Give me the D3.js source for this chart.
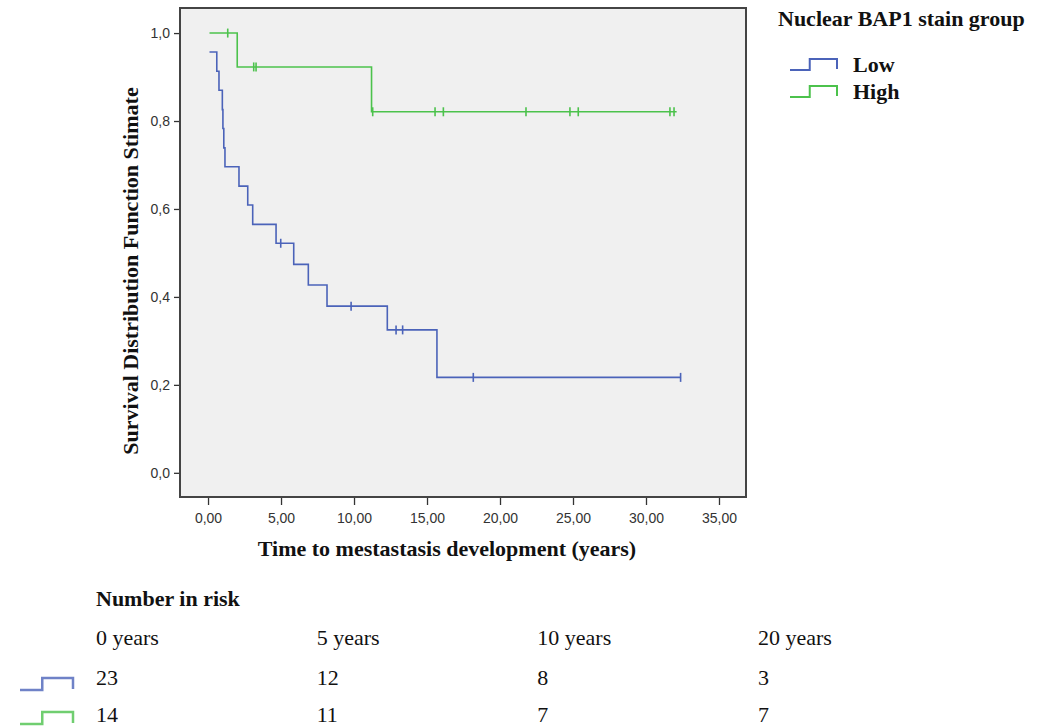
<!DOCTYPE html>
<html>
<head>
<meta charset="utf-8">
<script src="https://cdn.jsdelivr.net/npm/d3@7"></script>
<style>
  body { margin: 0; background: #fff; }
  svg { display: block; }
  .serif { font-family: "Liberation Serif", "Times New Roman", serif; fill: #111; }
</style>
</head>
<body>
<div id="chart"></div>
<script>
// Kaplan-Meier steps: time (years) where the curve drops, survival after drop
var lowTimes = [0.1, 0.6, 0.75, 0.98, 1.02, 1.08, 1.16, 2.12, 2.72, 3.06, 4.66, 5.87, 6.87, 8.15, 12.28, 15.68];
var lowSurv  = [0.957, 0.913, 0.870, 0.826, 0.783, 0.739, 0.696, 0.652, 0.609, 0.565, 0.522, 0.474, 0.427, 0.379, 0.325, 0.217];
var lowEnd = 32.4;
var lowCensored = [4.98, 9.8, 12.88, 13.33, 18.17, 32.37];

var highTimes = [0.1, 2.0, 11.2];
var highSurv  = [1.0, 0.923, 0.821];
var highEnd = 32.1;
var highCensored = [1.35, 3.13, 3.29, 11.28, 15.55, 16.12, 21.78, 24.79, 25.36, 31.64, 31.92];

var groups = ["Low", "High"];
var colors = ["#4b63b9", "#4cc24c"];

var riskLabels = ["0 years", "5 years", "10 years", "20 years"];
var riskLow  = [23, 12, 8, 3];
var riskHigh = [14, 11, 7, 7];

var xTicks = [0, 5, 10, 15, 20, 25, 30, 35];
var yTicks = [0, 0.2, 0.4, 0.6, 0.8, 1.0];

//Chart set up
var svgWidth = 1040;
var svgHeight = 727;
var plot = { left: 180, right: 746, top: 8, bottom: 497 };

var svg = d3.select("#chart")
    .append("svg")
    .attr("width", svgWidth)
    .attr("height", svgHeight);

var xScale = d3.scaleLinear()
    .domain([-1.92, 36.85])
    .range([plot.left, plot.right]);

var yScale = d3.scaleLinear()
    .domain([-0.055, 1.057])
    .range([plot.bottom, plot.top]);

// plot background
svg.append("rect")
    .attr("x", plot.left)
    .attr("y", plot.top)
    .attr("width", plot.right - plot.left)
    .attr("height", plot.bottom - plot.top)
    .attr("fill", "#f0f0f0");

// axes
var comma = function(fmt) { return function(d) { return d3.format(fmt)(d).replace(".", ","); }; };

function styleAxis(g) {
    g.select(".domain").remove();
    g.selectAll(".tick line").attr("stroke", "#333").attr("stroke-width", 1.3);
    g.selectAll(".tick text")
        .attr("font-family", "'Liberation Sans', Arial, sans-serif")
        .attr("font-size", 14)
        .attr("fill", "#333");
}

svg.append("g")
    .attr("transform", `translate(0, ${plot.bottom})`)
    .call(d3.axisBottom(xScale).tickValues(xTicks).tickSize(8).tickPadding(8).tickFormat(comma(".2f")))
    .call(styleAxis);

svg.append("g")
    .attr("transform", `translate(${plot.left}, 0)`)
    .call(d3.axisLeft(yScale).tickValues(yTicks).tickSize(6).tickPadding(4).tickFormat(comma(".1f")))
    .call(styleAxis);

// frame
svg.append("rect")
    .attr("x", plot.left)
    .attr("y", plot.top)
    .attr("width", plot.right - plot.left)
    .attr("height", plot.bottom - plot.top)
    .attr("fill", "none")
    .attr("stroke", "#444")
    .attr("stroke-width", 2);

// survival curves
var stepLine = d3.line()
    .x(d => xScale(d[0]))
    .y(d => yScale(d[1]))
    .curve(d3.curveStepAfter);

function stepPoints(times, surv, end) {
    var pts = times.map((t, i) => [t, surv[i]]);
    pts.push([end, surv[surv.length - 1]]);
    return pts;
}

function survAt(times, surv, t) {
    var s = surv[0];
    times.forEach((tt, i) => { if (tt <= t) s = surv[i]; });
    return s;
}

var curves = [
    { times: lowTimes, surv: lowSurv, end: lowEnd, cens: lowCensored },
    { times: highTimes, surv: highSurv, end: highEnd, cens: highCensored }
];

curves.forEach(function(c, i) {
    svg.append("path")
        .datum(stepPoints(c.times, c.surv, c.end))
        .attr("d", stepLine)
        .attr("fill", "none")
        .attr("stroke", colors[i])
        .attr("stroke-width", 1.6);

    svg.selectAll(".cens" + i)
        .data(c.cens)
        .enter()
        .append("line")
        .attr("x1", d => xScale(d))
        .attr("x2", d => xScale(d))
        .attr("y1", d => yScale(survAt(c.times, c.surv, d)) - 4.5)
        .attr("y2", d => yScale(survAt(c.times, c.surv, d)) + 4.5)
        .attr("stroke", colors[i])
        .attr("stroke-width", 1.6);
});

// axis titles
svg.append("text")
    .attr("class", "serif")
    .attr("x", 447)
    .attr("y", 556)
    .attr("text-anchor", "middle")
    .attr("font-size", 22)
    .attr("font-weight", "bold")
    .text("Time to mestastasis development (years)");

svg.append("text")
    .attr("class", "serif")
    .attr("transform", "translate(138, 271)rotate(-90)")
    .attr("text-anchor", "middle")
    .attr("font-size", 22)
    .attr("font-weight", "bold")
    .text("Survival Distribution Function Stimate");

// legend
svg.append("text")
    .attr("class", "serif")
    .attr("x", 778)
    .attr("y", 26)
    .attr("font-size", 22)
    .attr("font-weight", "bold")
    .text("Nuclear BAP1 stain group");

function icon(x, y, w, h) {
    return `M${x},${y} H${x + w * 0.42} V${y - h} H${x + w} V${y - 1}`;
}

groups.forEach(function(g, i) {
    var y = 70 + i * 27;
    svg.append("path")
        .attr("d", icon(790, y, 47, 11))
        .attr("fill", "none")
        .attr("stroke", colors[i])
        .attr("stroke-width", 2);
    svg.append("text")
        .attr("class", "serif")
        .attr("x", 853)
        .attr("y", y + 2)
        .attr("font-size", 22)
        .attr("font-weight", "bold")
        .text(g);
});

// number in risk table
svg.append("text")
    .attr("class", "serif")
    .attr("x", 96)
    .attr("y", 606)
    .attr("font-size", 22)
    .attr("font-weight", "bold")
    .text("Number in risk");

var colX = d3.scalePoint().domain(riskLabels).range([96, 758]);

svg.selectAll(".riskHead")
    .data(riskLabels)
    .enter()
    .append("text")
    .attr("class", "serif")
    .attr("x", d => colX(d))
    .attr("y", 645)
    .attr("font-size", 22)
    .text(d => d);

[riskLow, riskHigh].forEach(function(row, i) {
    var y = 685 + i * 37;
    svg.append("path")
        .attr("d", icon(20, i === 0 ? 690 : 724, 53, 12))
        .attr("fill", "none")
        .attr("stroke", colors[i])
        .attr("stroke-opacity", 0.8)
        .attr("stroke-width", 2.5);
    svg.selectAll(".risk" + i)
        .data(row)
        .enter()
        .append("text")
        .attr("class", "serif")
        .attr("x", (d, j) => colX(riskLabels[j]))
        .attr("y", y)
        .attr("font-size", 22)
        .text(d => d);
});
</script>
</body>
</html>
